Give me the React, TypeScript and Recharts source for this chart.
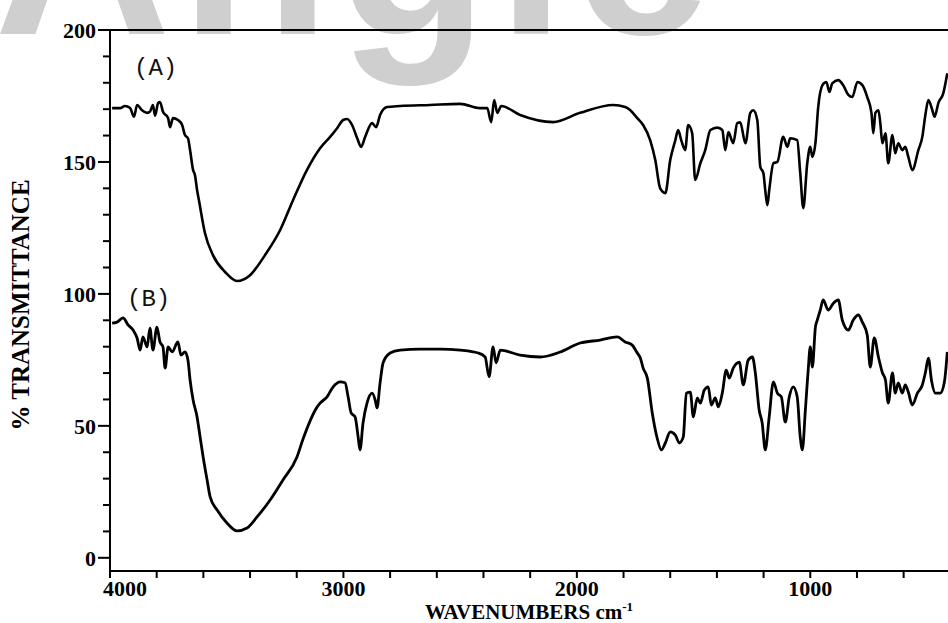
import React from 'react';
import { LineChart, Line, XAxis, YAxis, ReferenceLine } from 'recharts';

// Spectrum (A)
const wavenumbersA = [
  3991, 3957, 3936, 3914, 3897, 3884, 3863, 3841, 3829, 3816, 3807, 3794, 3786, 3773, 3751, 3743, 3730, 3709,
  3691, 3679, 3666, 3657, 3644, 3636, 3627, 3619, 3593, 3559, 3507, 3456, 3400, 3336, 3271, 3216, 3156, 3100,
  3057, 3027, 3001, 2984, 2963, 2941, 2924, 2907, 2877, 2860, 2843, 2813, 2757, 2629, 2500, 2414, 2384, 2367,
  2354, 2341, 2324, 2243, 2101, 1986, 1844, 1793, 1771, 1741, 1716, 1686, 1664, 1643, 1621, 1600, 1578, 1566,
  1553, 1536, 1523, 1506, 1493, 1471, 1450, 1428, 1398, 1377, 1364, 1351, 1330, 1313, 1300, 1278, 1257, 1244,
  1227, 1214, 1201, 1193, 1184, 1175, 1158, 1141, 1116, 1098, 1086, 1056, 1043, 1030, 1013, 1000, 991, 978,
  966, 948, 931, 918, 906, 880, 859, 837, 820, 798, 777, 756, 738, 730, 721, 708, 700, 691, 678, 666, 648, 636,
  623, 606, 593, 580, 563, 537, 520, 507, 494, 477, 468, 451, 430, 413,
];
const transmittanceA = [
  170.4, 170.4, 171.2, 170.4, 167.1, 171.6, 169.6, 168.6, 169.0, 171.6, 167.5, 172.3, 172.7, 169.0, 166.6, 163.2, 166.6, 165.9,
  164.0, 160.2, 159.0, 154.5, 146.9, 145.0, 139.4, 135.5, 123.0, 114.7, 108.3, 104.9, 107.1, 114.7, 124.2, 135.5, 147.0, 155.2,
  159.5, 162.8, 165.9, 166.3, 164.0, 159.0, 155.7, 159.5, 164.7, 163.2, 167.8, 170.8, 171.2, 171.6, 172.0, 170.4, 170.4, 165.1,
  173.5, 168.6, 171.2, 167.8, 165.1, 168.6, 171.6, 170.8, 169.6, 166.6, 164.0, 158.3, 150.7, 140.0, 138.2, 150.7, 158.3, 162.1,
  158.3, 154.5, 164.0, 160.9, 143.2, 149.5, 154.5, 162.1, 163.0, 162.1, 154.5, 161.3, 157.1, 164.7, 165.0, 157.1, 168.6, 169.6,
  165.9, 148.1, 145.8, 139.4, 133.6, 140.0, 149.5, 150.0, 159.5, 155.7, 159.0, 158.3, 145.8, 132.5, 149.5, 155.7, 151.9, 157.1,
  170.8, 179.1, 180.3, 176.5, 179.8, 181.0, 179.1, 175.4, 174.6, 180.3, 179.1, 174.6, 168.6, 160.9, 168.6, 169.6, 164.7, 157.1, 160.9, 149.5, 160.2, 153.3,
  157.1, 154.5, 155.7, 151.9, 146.9, 154.5, 159.5, 167.8, 173.5, 169.6, 167.1, 172.4, 176.1, 183.6,
];

// Spectrum (B)
const wavenumbersB = [
  3991, 3970, 3944, 3923, 3901, 3884, 3871, 3859, 3841, 3829, 3816, 3799, 3786, 3773, 3764, 3751, 3734, 3709,
  3696, 3679, 3666, 3657, 3644, 3627, 3614, 3601, 3584, 3571, 3541, 3499, 3456, 3413, 3370, 3314, 3259, 3199,
  3173, 3113, 3100, 3070, 3044, 3014, 2993, 2980, 2967, 2950, 2937, 2929, 2916, 2899, 2877, 2864, 2856, 2843,
  2830, 2800, 2757, 2671, 2586, 2500, 2423, 2393, 2376, 2359, 2346, 2328, 2243, 2157, 2071, 1986, 1900, 1827,
  1793, 1763, 1741, 1728, 1716, 1698, 1677, 1656, 1638, 1621, 1600, 1578, 1561, 1544, 1531, 1514, 1501, 1484,
  1471, 1454, 1437, 1424, 1407, 1394, 1377, 1360, 1347, 1330, 1304, 1287, 1266, 1248, 1236, 1219, 1206, 1193,
  1176, 1158, 1141, 1124, 1107, 1090, 1073, 1056, 1043, 1034, 1021, 1009, 1000, 991, 978, 970, 957, 945, 923,
  901, 880, 863, 837, 816, 794, 777, 756, 743, 726, 708, 691, 678, 666, 648, 636, 623, 606, 593, 580, 563, 541,
  520, 507, 494, 481, 464, 443, 426, 413,
];
const transmittanceB = [
  88.9, 89.3, 90.9, 88.3, 86.3, 83.3, 78.7, 83.7, 79.9, 87.0, 78.7, 87.4, 81.8, 79.9, 71.9, 79.9, 78.0, 81.8,
  76.8, 78.0, 74.9, 67.4, 59.8, 53.4, 45.8, 38.2, 29.5, 23.1, 18.1, 13.2, 10.2, 11.3, 15.5, 21.9, 29.5, 38.2,
  45.0, 57.1, 58.6, 61.0, 64.8, 66.7, 66.3, 61.0, 54.9, 53.4, 45.8, 40.9, 51.1, 58.6, 62.4, 59.8, 56.8, 66.3,
  73.9, 77.6, 78.7, 79.1, 79.1, 78.7, 77.6, 76.1, 68.6, 79.9, 73.9, 78.7, 76.8, 76.1, 78.0, 81.4, 82.5, 83.7,
  81.8, 80.6, 77.6, 75.7, 71.9, 68.1, 54.9, 45.4, 40.9, 43.5, 47.7, 46.5, 43.5, 45.8, 62.4, 62.8, 53.4, 60.6,
  58.6, 63.6, 64.8, 57.9, 60.6, 57.2, 62.4, 71.1, 68.1, 71.9, 74.1, 65.5, 74.9, 76.1, 70.5, 56.0, 51.1, 40.9,
  53.4, 66.7, 62.4, 61.0, 51.4, 61.0, 64.8, 61.0, 45.8, 40.9, 56.0, 71.1, 79.9, 72.3, 87.4, 90.1, 93.9, 97.7, 93.9,
  96.5, 97.7, 90.1, 86.3, 90.1, 92.0, 89.3, 84.4, 72.3, 83.3, 76.1, 70.1, 67.4, 58.6, 70.1, 62.4, 66.3, 62.4, 65.5, 62.8, 57.9, 62.4,
  65.5, 70.1, 75.7, 67.4, 62.4, 62.4, 66.3, 78.0,
];

const xTicks = [4000, 3800, 3600, 3400, 3200, 3000, 2800, 2600, 2400, 2200, 2000, 1800, 1600, 1400, 1200, 1000, 800, 600];
const xLabelTicks = [4000, 3000, 2000, 1000];
const yTicks = [0, 10, 20, 30, 40, 50, 60, 70, 80, 90, 100, 110, 120, 130, 140, 150, 160, 170, 180, 190, 200];
const yLabelTicks = [0, 50, 100, 150, 200];

const dataA = wavenumbersA.map((w, i) => ({ w, t: transmittanceA[i] }));
const dataB = wavenumbersB.map((w, i) => ({ w, t: transmittanceB[i] }));

const SERIF = '"Liberation Serif", "Times New Roman", serif';

const XTick = (props: any) => {
  const { x, y, payload } = props;
  const v = payload.value;
  const labelled = xLabelTicks.includes(v);
  return (
    <g>
      <line x1={x} y1={y} x2={x} y2={y + 7} stroke="#000" strokeWidth={2} />
      {labelled && (
        <text
          x={v === 4000 ? x - 7 : x}
          y={y + 25}
          textAnchor={v === 4000 ? 'start' : 'middle'}
          fontFamily={SERIF}
          fontWeight="bold"
          fontSize={22}
          fill="#000"
        >
          {v}
        </text>
      )}
    </g>
  );
};

const YTick = (props: any) => {
  const { x, y, payload } = props;
  const v = payload.value;
  const labelled = yLabelTicks.includes(v);
  return (
    <g>
      <line x1={x} y1={y} x2={x - (labelled ? 12 : 7)} y2={y} stroke="#000" strokeWidth={2} />
      {labelled && (
        <text
          x={x - 14}
          y={y}
          dy="0.35em"
          textAnchor="end"
          fontFamily={SERIF}
          fontWeight="bold"
          fontSize={22}
          fill="#000"
        >
          {v}
        </text>
      )}
    </g>
  );
};

export default function App() {
  return (
    <div style={{ position: 'absolute', left: 0, top: 0, width: 948, height: 623, background: '#fff', overflow: 'hidden' }}>
      <svg width={948} height={623} style={{ position: 'absolute', left: 0, top: 0 }}>
        <text
          x={-6}
          y={34}
          fontFamily='"Liberation Sans", Arial, sans-serif'
          fontWeight="bold"
          fontSize={245}
          letterSpacing={9}
          fill="#cfcfcf"
        >
          Angle
        </text>
      </svg>
      <div style={{ position: 'absolute', left: 0, top: 0 }}>
        <LineChart width={948} height={623} margin={{ top: 30, right: 0, bottom: 0, left: 0 }}>
          <XAxis
            dataKey="w"
            type="number"
            domain={[410, 4000]}
            reversed
            allowDataOverflow
            ticks={xTicks}
            interval={0}
            tick={<XTick />}
            tickSize={0}
            tickMargin={0}
            tickLine={false}
            height={52}
            axisLine={{ stroke: '#000', strokeWidth: 2 }}
          />
          <YAxis
            type="number"
            domain={[-5, 200]}
            allowDataOverflow
            ticks={yTicks}
            interval={0}
            tick={<YTick />}
            tickSize={0}
            tickMargin={0}
            tickLine={false}
            width={110}
            axisLine={{ stroke: '#000', strokeWidth: 2 }}
          />
          <ReferenceLine y={200} stroke="#000" strokeWidth={2} />
          <Line
            data={dataA}
            dataKey="t"
            type="monotone"
            stroke="#000"
            strokeWidth={2.6}
            strokeLinejoin="round"
            dot={false}
            isAnimationActive={false}
          />
          <Line
            data={dataB}
            dataKey="t"
            type="monotone"
            stroke="#000"
            strokeWidth={2.8}
            strokeLinejoin="round"
            dot={false}
            isAnimationActive={false}
          />
        </LineChart>
      </div>
      <svg width={948} height={623} style={{ position: 'absolute', left: 0, top: 0, pointerEvents: 'none' }}>
        <text x={134} y={75} fontFamily='"Liberation Mono", "Courier New", monospace' fontSize={24} fill="#111">
          (A)
        </text>
        <text x={127} y={306} fontFamily='"Liberation Mono", "Courier New", monospace' fontSize={24} fill="#111">
          (B)
        </text>
        <text
          transform="translate(20,305) rotate(-90)"
          textAnchor="middle"
          dominantBaseline="central"
          fontFamily={SERIF}
          fontWeight="bold"
          fontSize={25}
          fill="#000"
        >
          % TRANSMITTANCE
        </text>
        <text x={529} y={619} textAnchor="middle" fontFamily={SERIF} fontWeight="bold" fontSize={21} fill="#000">
          WAVENUMBERS cm<tspan dy={-8} fontSize={13}>-1</tspan>
        </text>
      </svg>
    </div>
  );
}
